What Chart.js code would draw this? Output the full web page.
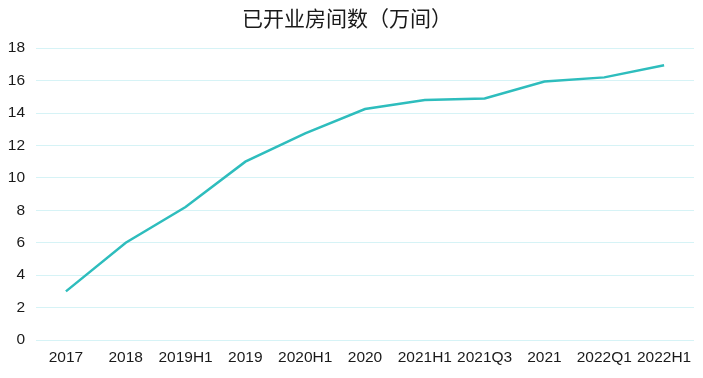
<!DOCTYPE html>
<html><head><meta charset="utf-8">
<script src="https://cdn.jsdelivr.net/npm/chart.js@4/dist/chart.umd.min.js"></script>
<style>html,body{margin:0;padding:0;background:#fff}#wrap{width:703px;height:378px}</style>
</head><body><div id="wrap"><canvas id="c"></canvas></div>
<script>
const categories = ["2017","2018","2019H1","2019","2020H1","2020","2021H1","2021Q3","2021","2022Q1","2022H1"];
const rooms = [3.0, 6.0, 8.2, 11.0, 12.75, 14.25, 14.8, 14.9, 15.95, 16.2, 16.95];
const yTicks = [0,2,4,6,8,10,12,14,16,18];
const titleText = "已开业房间数（万间）";

new Chart(document.getElementById('c'), {
  type: 'line',
  data: { labels: categories, datasets: [{ data: rooms, borderColor: '#2ebdbd', borderWidth: 2.5, pointRadius: 0, tension: 0, fill: false }] },
  options: {
    responsive: true, maintainAspectRatio: false, animation: false,
    layout: { padding: { left: 0, right: 9, top: 0, bottom: 11 } },
    plugins: {
      legend: { display: false }, tooltip: { enabled: false },
      title: { display: true, text: titleText, color: '#1a1a1a', font: { family: "'Noto Sans CJK SC', sans-serif", size: 21, weight: 'normal', lineHeight: 1.2 }, padding: { top: 5, bottom: 18 } }
    },
    scales: {
      x: { offset: true, grid: { display: false, drawTicks: false }, border: { display: false },
           afterFit: ax => { ax.height = 27; },
           ticks: { color: '#1a1a1a', font: { family: "'Liberation Sans', Arial, sans-serif", size: 15.5, lineHeight: 1.2 }, maxRotation: 0, autoSkip: false, padding: 8 } },
      y: { min: 0, max: 18, afterBuildTicks: ax => { ax.ticks = yTicks.map(v => ({ value: v })); },
           afterFit: ax => { ax.width = 36; },
           grid: { color: '#d6f3f6', lineWidth: 1, drawTicks: false }, border: { display: false },
           ticks: { color: '#1a1a1a', font: { family: "'Liberation Sans', Arial, sans-serif", size: 15.5 }, padding: 11 } }
    }
  }
});
</script></body></html>
